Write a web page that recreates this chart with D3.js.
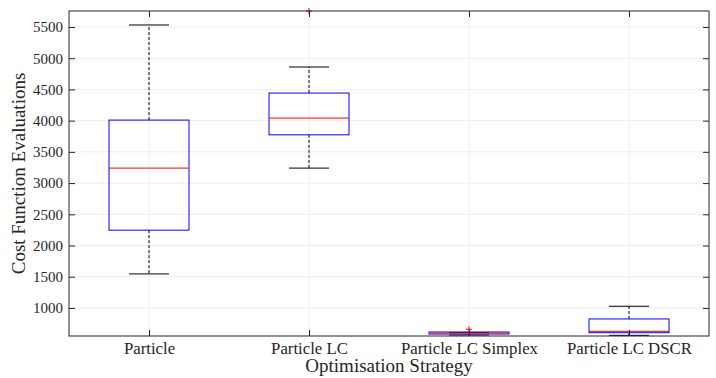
<!DOCTYPE html>
<html>
<head>
<meta charset="utf-8">
<script src="https://cdn.jsdelivr.net/npm/d3@7"></script>
<style>
  body { margin: 0; background: #fff; }
</style>
</head>
<body>
<div id="chart"></div>
<script>
// box statistics
const categories = ['Particle', 'Particle LC', 'Particle LC Simplex', 'Particle LC DSCR'];
const whiskerLow = [1545, 3240, 567, 562];
const q1 = [2246, 3773, 583, 604];
const median = [3240, 4041, 599, 626];
const q3 = [4009, 4442, 615, 824];
const whiskerHigh = [5532, 4859, 607, 1027];
const outliers = [[], [5756], [659], []];
const yTicks = [1000, 1500, 2000, 2500, 3000, 3500, 4000, 4500, 5000, 5500];

const serif = 'Liberation Serif';
const width = 716, height = 378;
const margin = { top: 11, right: 7, bottom: 42, left: 69 };
const innerW = width - margin.left - margin.right;
const innerH = height - margin.top - margin.bottom;

const svg = d3.select('#chart')
  .append('svg')
  .attr('width', width)
  .attr('height', height);

const g = svg.append('g')
  .attr('transform', 'translate(' + margin.left + ',' + margin.top + ')');

const x = d3.scaleLinear().domain([0.5, 4.5]).range([0, innerW]);
const y = d3.scaleLinear().domain([551, 5756]).range([innerH, 0]);

const data = categories.map((c, i) => ({
  name: c, pos: i + 1,
  lo: whiskerLow[i], q1: q1[i], med: median[i], q3: q3[i], hi: whiskerHigh[i],
  out: outliers[i]
}));

// grid
g.append('g').selectAll('line')
  .data(yTicks)
  .enter()
  .append('line')
  .attr('x1', 0).attr('x2', innerW)
  .attr('y1', d => y(d)).attr('y2', d => y(d))
  .attr('stroke', '#ededed').attr('stroke-width', 1);
g.append('g').selectAll('line')
  .data(data)
  .enter()
  .append('line')
  .attr('x1', d => x(d.pos)).attr('x2', d => x(d.pos))
  .attr('y1', 0).attr('y2', innerH)
  .attr('stroke', '#ededed').attr('stroke-width', 1);

// boxes
const box = g.selectAll('.box')
  .data(data)
  .enter()
  .append('g')
  .attr('class', 'box');

const boxW = x(1.25) - x(1);
const capW = x(1.125) - x(1);

box.append('line')
  .attr('x1', d => x(d.pos)).attr('x2', d => x(d.pos))
  .attr('y1', d => y(d.q3)).attr('y2', d => y(d.hi))
  .attr('stroke', '#000').attr('stroke-width', 1).attr('stroke-dasharray', '3,2');
box.append('line')
  .attr('x1', d => x(d.pos)).attr('x2', d => x(d.pos))
  .attr('y1', d => y(d.q1)).attr('y2', d => y(d.lo))
  .attr('stroke', '#000').attr('stroke-width', 1).attr('stroke-dasharray', '3,2');
box.selectAll('.cap')
  .data(d => [{ pos: d.pos, v: d.hi }, { pos: d.pos, v: d.lo }])
  .enter()
  .append('line')
  .attr('x1', d => x(d.pos) - capW).attr('x2', d => x(d.pos) + capW)
  .attr('y1', d => y(d.v)).attr('y2', d => y(d.v))
  .attr('stroke', '#000').attr('stroke-width', 1);
box.append('rect')
  .attr('x', d => x(d.pos) - boxW)
  .attr('y', d => y(d.q3))
  .attr('width', boxW * 2)
  .attr('height', d => y(d.q1) - y(d.q3))
  .attr('fill', 'none').attr('stroke', '#0000ff').attr('stroke-width', 1);
box.append('line')
  .attr('x1', d => x(d.pos) - boxW).attr('x2', d => x(d.pos) + boxW)
  .attr('y1', d => y(d.med)).attr('y2', d => y(d.med))
  .attr('stroke', '#ff0000').attr('stroke-width', 1);
box.selectAll('.out')
  .data(d => d.out.map(v => ({ pos: d.pos, v: v })))
  .enter()
  .append('path')
  .attr('d', d => {
    const cx = x(d.pos), cy = y(d.v);
    return 'M' + (cx - 3) + ',' + cy + 'H' + (cx + 3) + 'M' + cx + ',' + (cy - 3) + 'V' + (cy + 3);
  })
  .attr('stroke', '#ff0000').attr('stroke-width', 1);

// axes
const yAxis = g.append('g')
  .call(d3.axisLeft(y).tickValues(yTicks).tickFormat(d3.format('d'))
    .tickSizeInner(-6).tickSizeOuter(0).tickPadding(6));
yAxis.attr('font-size', 15);
const yAxisR = g.append('g')
  .attr('transform', 'translate(' + innerW + ',0)')
  .call(d3.axisRight(y).tickValues(yTicks).tickSizeInner(-6).tickSizeOuter(0).tickFormat(''));
const xAxis = g.append('g')
  .attr('transform', 'translate(0,' + innerH + ')')
  .call(d3.axisBottom(x).tickValues(data.map(d => d.pos)).tickFormat((d, i) => categories[i])
    .tickSizeInner(-6).tickSizeOuter(0).tickPadding(6));
xAxis.attr('font-size', 16.8);
const xAxisT = g.append('g')
  .call(d3.axisTop(x).tickValues(data.map(d => d.pos)).tickSizeInner(-6).tickSizeOuter(0).tickFormat(''));

[yAxis, yAxisR, xAxis, xAxisT].forEach(a => {
  a.attr('font-family', serif);
  a.select('.domain').remove();
  a.selectAll('line').attr('stroke', '#262626');
  a.selectAll('text').attr('fill', '#262626');
});
g.append('rect')
  .attr('width', innerW).attr('height', innerH)
  .attr('fill', 'none').attr('stroke', '#262626').attr('stroke-width', 1);

// axis titles
svg.append('text')
  .attr('x', margin.left + innerW / 2)
  .attr('y', 372)
  .attr('text-anchor', 'middle')
  .attr('font-family', serif)
  .attr('font-size', 19)
  .attr('fill', '#262626')
  .text('Optimisation Strategy');
svg.append('text')
  .attr('transform', 'translate(25,' + (margin.top + innerH / 2) + ')rotate(-90)')
  .attr('text-anchor', 'middle')
  .attr('font-family', serif)
  .attr('font-size', 19)
  .attr('fill', '#262626')
  .text('Cost Function Evaluations');
</script>
</body>
</html>
